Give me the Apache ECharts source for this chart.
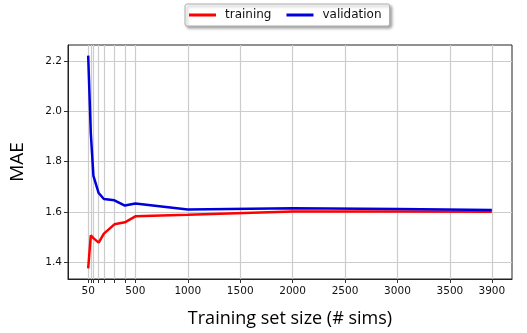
<!DOCTYPE html>
<html>
<head>
<meta charset="utf-8">
<script src="https://cdn.jsdelivr.net/npm/echarts@6/dist/echarts.min.js"></script>
<style>
  html, body { margin: 0; padding: 0; background: #ffffff; }
  #chart { width: 527px; height: 333px; }
</style>
</head>
<body>
<div id="chart"></div>
<script>
// Learning curve: mean absolute error vs. number of training simulations
const trainSizes = [50, 75, 100, 150, 200, 300, 400, 500, 1000, 2000, 3000, 3900];
const trainingMAE = [1.374, 1.506, 1.495, 1.477, 1.513, 1.550, 1.558, 1.582, 1.588, 1.601, 1.601, 1.600];
const validationMAE = [2.224, 1.914, 1.744, 1.675, 1.651, 1.646, 1.625, 1.633, 1.609, 1.614, 1.611, 1.607];

const xTickLabels = [50, 500, 1000, 1500, 2000, 2500, 3000, 3500, 3900];
const yTickLabels = [1.4, 1.6, 1.8, 2.0, 2.2];

// vertical grid at every training size plus the labelled positions
const xGridValues = Array.from(new Set(trainSizes.concat(xTickLabels))).sort((a, b) => a - b);

const pairs = (xs, ys) => xs.map((x, i) => [x, ys[i]]);

const chart = echarts.init(document.getElementById('chart'), null, { renderer: 'canvas' });

const gridColor = '#cccccc';
const tickFont = 'DejaVu Sans';
const titleFont = 'Open Sans';

chart.setOption({
  animation: false,
  backgroundColor: '#ffffff',
  grid: {
    left: 66, right: 15, top: 45, bottom: 54,
    show: true, borderColor: '#222222', borderWidth: 1, backgroundColor: 'transparent'
  },
  legend: {
    left: 185, top: 4,
    padding: [5, 8, 5, 4],
    itemWidth: 27, itemHeight: 3, itemGap: 15,
    icon: 'rect',
    backgroundColor: '#ffffff',
    borderColor: '#b0b0b0', borderWidth: 1, borderRadius: 2,
    shadowColor: 'rgba(0,0,0,0.35)', shadowBlur: 3, shadowOffsetX: 2, shadowOffsetY: 2,
    textStyle: { fontFamily: tickFont, fontSize: 12, color: '#111111', padding: [0, 0, 0, 4] },
    data: ['training', 'validation']
  },
  xAxis: {
    type: 'value',
    min: -142.5, max: 4092.5,
    name: 'Training set size (# sims)',
    nameLocation: 'middle', nameGap: 31,
    nameTextStyle: { fontFamily: titleFont, fontSize: 18, color: '#000000' },
    axisLine: { show: true, onZero: false, lineStyle: { color: '#222222', width: 1 } },
    axisTick: { show: true, length: 4, inside: false, customValues: xGridValues, lineStyle: { color: '#333333' } },
    axisLabel: {
      customValues: xTickLabels, fontFamily: tickFont, fontSize: 10.5, color: '#111111', margin: 7,
      formatter: v => String(v)
    },
    splitLine: { show: true, lineStyle: { color: gridColor, width: 1.2 } }
  },
  yAxis: {
    type: 'value',
    min: 1.3315, max: 2.2665,
    name: 'MAE',
    nameLocation: 'middle', nameGap: 41,
    nameTextStyle: { fontFamily: titleFont, fontSize: 19, color: '#000000' },
    axisLine: { show: true, onZero: false, lineStyle: { color: '#222222', width: 1 } },
    axisTick: { show: true, length: 4, inside: false, customValues: yTickLabels, lineStyle: { color: '#333333' } },
    axisLabel: {
      customValues: yTickLabels, fontFamily: tickFont, fontSize: 10.5, color: '#111111', margin: 6,
      formatter: v => v.toFixed(1)
    },
    splitLine: { show: true, lineStyle: { color: gridColor, width: 1.2 } }
  },
  series: [
    {
      name: 'training', type: 'line',
      data: pairs(trainSizes, trainingMAE),
      showSymbol: false, symbol: 'none',
      itemStyle: { color: '#ff0000' },
      lineStyle: { color: '#ff0000', width: 2.5 }
    },
    {
      name: 'validation', type: 'line',
      data: pairs(trainSizes, validationMAE),
      showSymbol: false, symbol: 'none',
      itemStyle: { color: '#0000dd' },
      lineStyle: { color: '#0000dd', width: 2.5 }
    }
  ]
});
</script>
</body>
</html>
